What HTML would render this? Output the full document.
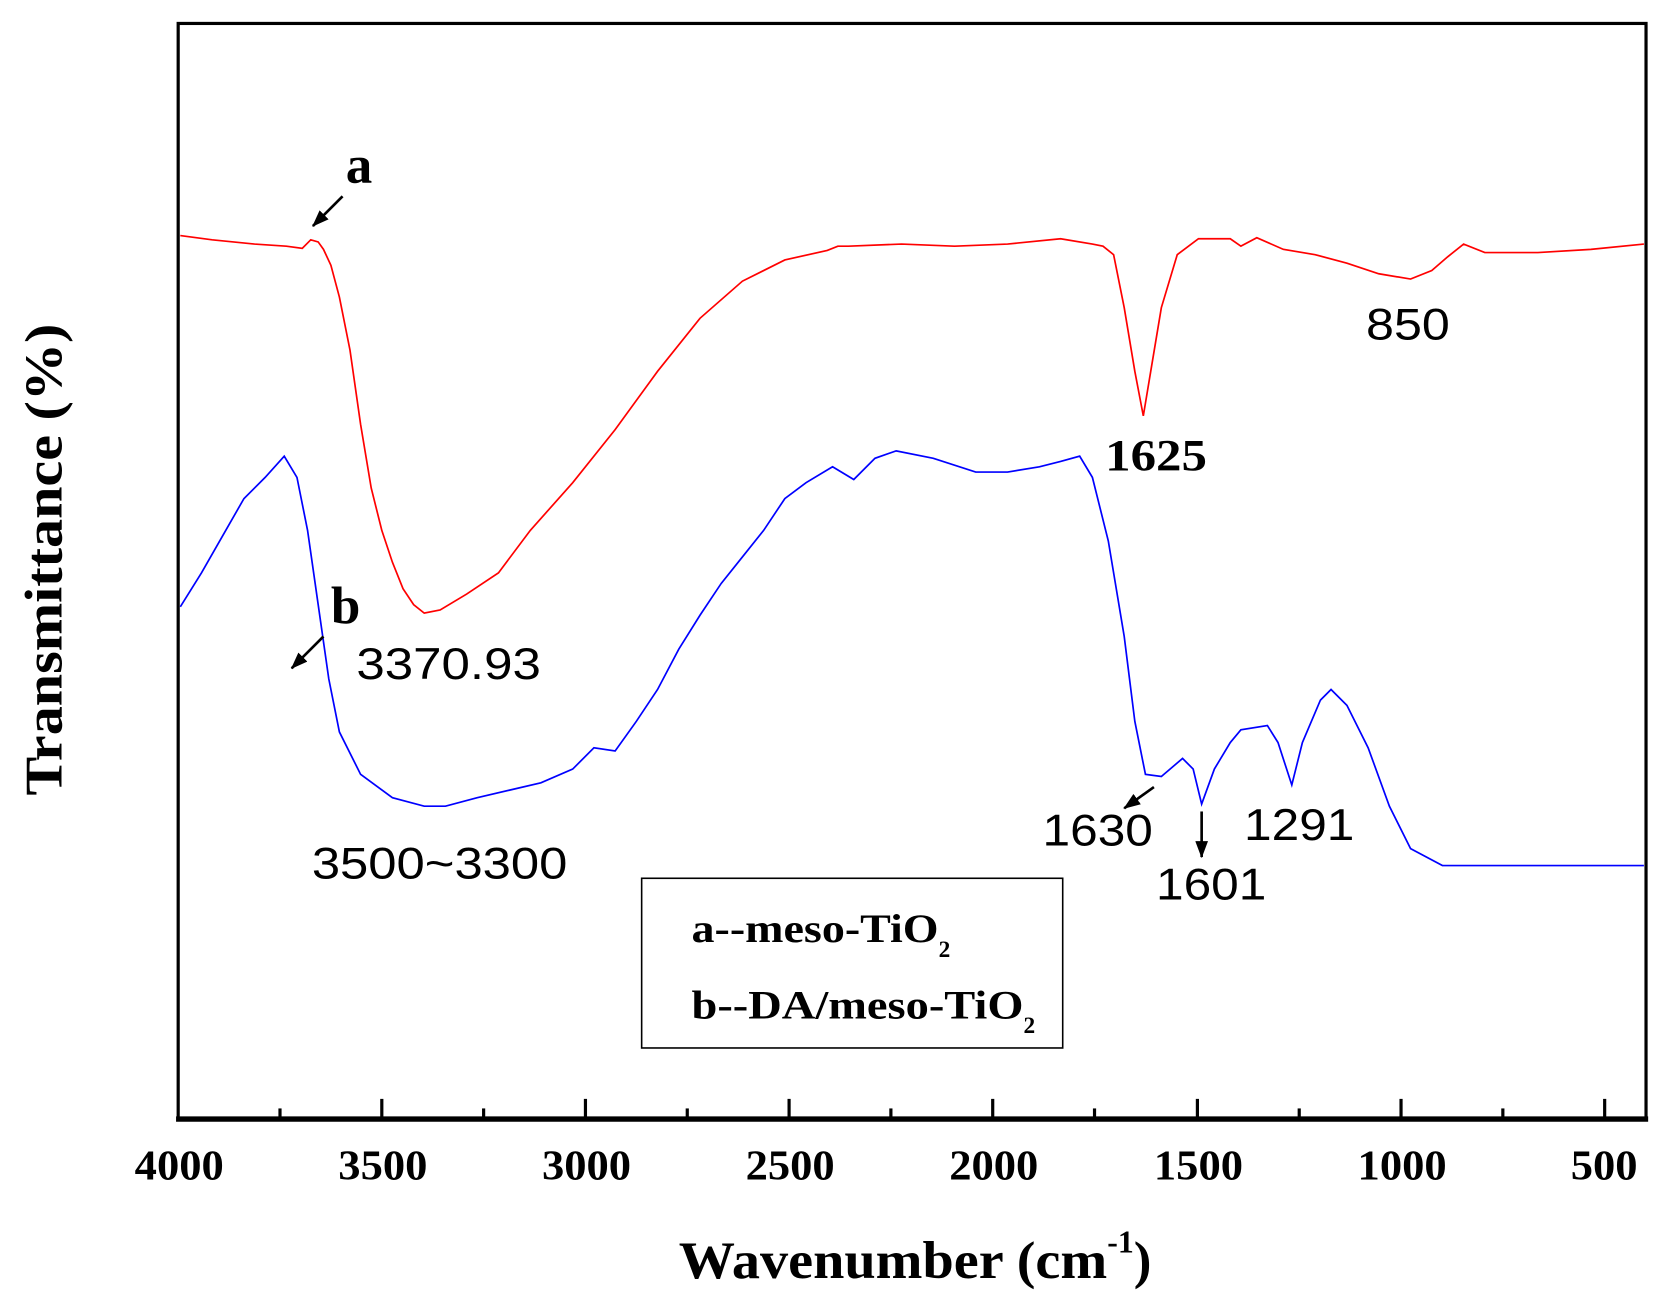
<!DOCTYPE html>
<html><head><style>html,body{margin:0;padding:0;background:#fff}svg{display:block}</style></head><body>
<svg width="1663" height="1309" viewBox="0 0 1568 1234" xmlns="http://www.w3.org/2000/svg">
<defs>
<marker id="ah2" markerWidth="16" markerHeight="12" refX="15" refY="6" orient="auto" markerUnits="userSpaceOnUse"><path d="M0,0 L16,6 L0,12z" fill="#000"/></marker></defs>
<rect x="168" y="22" width="1384" height="1033" fill="none" stroke="#000" stroke-width="3"/>
<line x1="166" y1="1055" x2="1554" y2="1055" stroke="#000" stroke-width="5"/>
<g stroke="#000" stroke-width="3">
<line x1="360" y1="1055" x2="360" y2="1036"/><line x1="552" y1="1055" x2="552" y2="1036"/><line x1="744" y1="1055" x2="744" y2="1036"/><line x1="936" y1="1055" x2="936" y2="1036"/><line x1="1129" y1="1055" x2="1129" y2="1036"/><line x1="1321" y1="1055" x2="1321" y2="1036"/><line x1="1513" y1="1055" x2="1513" y2="1036"/>
<line x1="264" y1="1055" x2="264" y2="1045"/><line x1="456" y1="1055" x2="456" y2="1045"/><line x1="648" y1="1055" x2="648" y2="1045"/><line x1="840" y1="1055" x2="840" y2="1045"/><line x1="1032" y1="1055" x2="1032" y2="1045"/><line x1="1225" y1="1055" x2="1225" y2="1045"/><line x1="1417" y1="1055" x2="1417" y2="1045"/>
</g>
<g font-family="Liberation Serif, serif" font-weight="bold" font-size="40">
<text x="127" y="1112" textLength="84" lengthAdjust="spacingAndGlyphs">4000</text>
<text x="319" y="1112" textLength="84" lengthAdjust="spacingAndGlyphs">3500</text>
<text x="511" y="1112" textLength="84" lengthAdjust="spacingAndGlyphs">3000</text>
<text x="703" y="1112" textLength="84" lengthAdjust="spacingAndGlyphs">2500</text>
<text x="895" y="1112" textLength="84" lengthAdjust="spacingAndGlyphs">2000</text>
<text x="1088" y="1112" textLength="84" lengthAdjust="spacingAndGlyphs">1500</text>
<text x="1280" y="1112" textLength="84" lengthAdjust="spacingAndGlyphs">1000</text>
<text x="1481" y="1112" textLength="63" lengthAdjust="spacingAndGlyphs">500</text>
</g>
<text x="640" y="1205" font-family="Liberation Serif, serif" font-weight="bold" font-size="50"><tspan textLength="404" lengthAdjust="spacingAndGlyphs">Wavenumber (cm</tspan><tspan dy="-24" font-size="30">-1</tspan><tspan dy="24">)</tspan></text>
<text transform="translate(58,750) rotate(-90)" font-family="Liberation Serif, serif" font-weight="bold" font-size="50" textLength="445" lengthAdjust="spacingAndGlyphs">Transmittance (%)</text>
<polyline fill="none" stroke="#f00" stroke-width="1.6" points="170,222 200,226 240,230 270,232 285,234 293,226 300,228 305,235 312,250 320,280 330,330 340,400 350,460 360,500 370,530 380,555 390,570 400,578 415,575 440,560 470,540 500,500 540,455 580,405 620,350 660,300 700,265 740,245 780,236 790,232 800,232 850,230 900,232 950,230 1000,225 1030,230 1040,232 1050,240 1060,290 1070,350 1078,392 1085,350 1095,290 1110,240 1130,225 1160,225 1170,232 1185,224 1210,235 1240,240 1270,248 1300,258 1330,263 1350,255 1365,242 1380,230 1400,238 1450,238 1500,235 1550,230"/>
<polyline fill="none" stroke="#00f" stroke-width="1.6" points="170,572 190,540 210,505 230,470 250,450 268,430 280,450 290,500 300,570 310,640 320,690 340,730 370,752 400,760 420,760 450,752 480,745 510,738 540,725 560,705 580,708 600,680 620,650 640,612 660,580 680,550 700,525 720,500 740,470 760,455 785,440 805,452 825,432 845,425 880,432 920,445 950,445 980,440 1000,435 1018,430 1030,450 1045,510 1060,600 1070,680 1080,730 1095,732 1115,715 1125,725 1133,758 1145,725 1160,700 1170,688 1195,684 1205,700 1218,740 1228,700 1245,660 1255,650 1270,665 1290,705 1310,760 1330,800 1360,816 1550,816"/>
<rect x="605" y="828" width="397" height="160" fill="#fff" stroke="#000" stroke-width="1.5"/>
<g font-family="Liberation Serif, serif" font-weight="bold" font-size="38">
<text x="652" y="888"><tspan textLength="233" lengthAdjust="spacingAndGlyphs">a--meso-TiO</tspan><tspan dy="14" font-size="22">2</tspan></text>
<text x="652" y="960"><tspan textLength="313" lengthAdjust="spacingAndGlyphs">b--DA/meso-TiO</tspan><tspan dy="14" font-size="22">2</tspan></text>
<text x="326" y="172" font-size="50">a</text>
<text x="312" y="588" font-size="50">b</text>
<text x="1042" y="443" font-size="42" textLength="96" lengthAdjust="spacingAndGlyphs">1625</text>
</g>
<g font-family="Liberation Sans, sans-serif" font-size="42">
<text x="1288" y="320" textLength="79" lengthAdjust="spacingAndGlyphs">850</text>
<text x="336" y="640" textLength="174" lengthAdjust="spacingAndGlyphs">3370.93</text>
<text x="294" y="828" textLength="241" lengthAdjust="spacingAndGlyphs">3500~3300</text>
<text x="983" y="797" textLength="104" lengthAdjust="spacingAndGlyphs">1630</text>
<text x="1090" y="848" textLength="104" lengthAdjust="spacingAndGlyphs">1601</text>
<text x="1173" y="792" textLength="104" lengthAdjust="spacingAndGlyphs">1291</text>
</g>
<g stroke="#000" stroke-width="2.5">
<line x1="323" y1="185" x2="295" y2="213" marker-end="url(#ah2)"/>
<line x1="305" y1="600" x2="275" y2="630" marker-end="url(#ah2)"/>
<line x1="1088" y1="742" x2="1060" y2="762" marker-end="url(#ah2)"/>
<line x1="1133" y1="765" x2="1133" y2="808" marker-end="url(#ah2)"/>
</g>
</svg>
</body></html>
